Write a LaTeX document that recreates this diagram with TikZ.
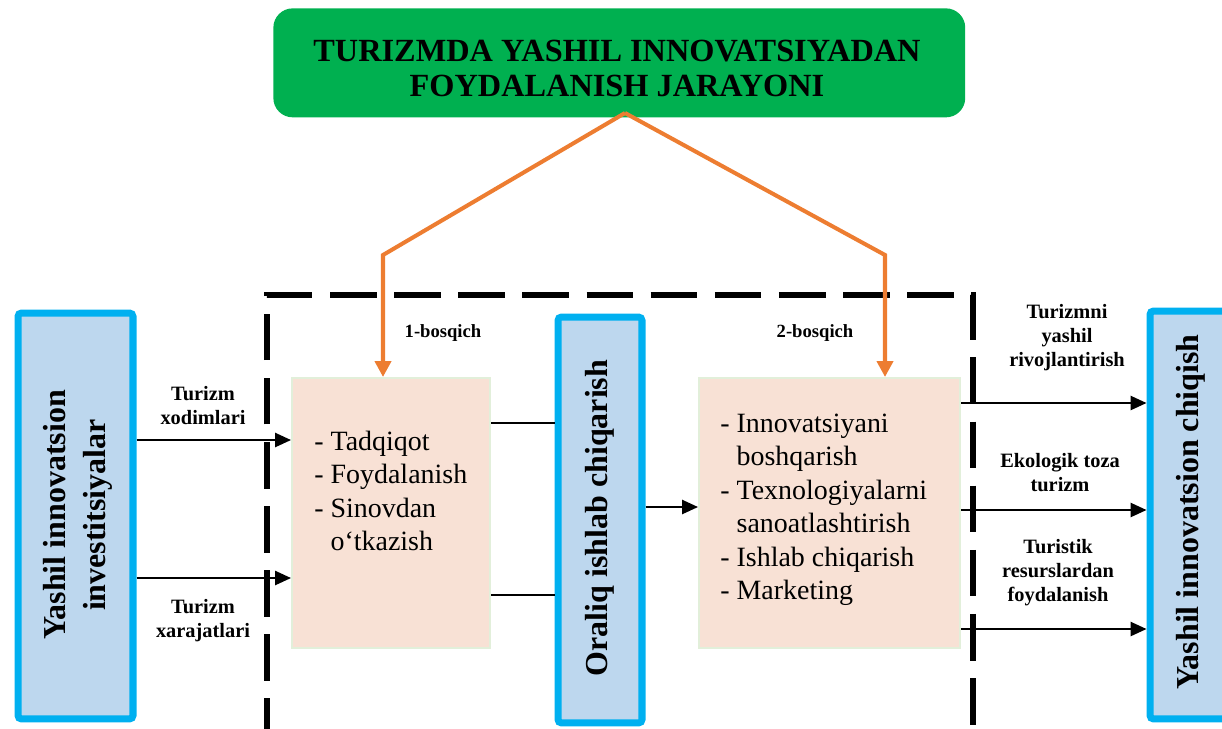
\documentclass[tikz,border=0pt]{standalone}
\usepackage{fontspec}
\setmainfont{Liberation Serif}
\usetikzlibrary{arrows.meta}
\definecolor{ggreen}{HTML}{00B050}
\definecolor{cyanb}{HTML}{00B0F0}
\definecolor{lblue}{HTML}{BDD7EE}
\definecolor{peach}{HTML}{F8E1D5}
\definecolor{pborder}{HTML}{E2EFDA}
\definecolor{orng}{HTML}{ED7D31}
\tikzset{
  bluebox/.style={draw=cyanb, line width=4pt, fill=lblue, rounded corners=2pt, inner sep=0pt, anchor=north west},
  stagebox/.style={draw=pborder, line width=1.2pt, fill=peach, inner sep=0pt, anchor=north west},
  titlebox/.style={fill=ggreen, rounded corners=11pt, inner sep=0pt, anchor=north west},
  flow/.style={line width=1.1pt, -{Triangle[length=9pt,width=8pt]}},
  plainline/.style={line width=1.1pt},
  orangearrow/.style={draw=orng, line width=2.3pt, line join=miter, -{Triangle[length=9pt,width=9pt]}},
  framedash/.style={line width=3.4pt, dash pattern=on 26.5pt off 10pt},
  lbl/.style={font=\bfseries\fontsize{11.6}{13.7}\selectfont, inner sep=0pt, anchor=base},
  stagelbl/.style={font=\bfseries\fontsize{10.6}{12.5}\selectfont, inner sep=0pt, anchor=base},
  vtext/.style={font=\bfseries\fontsize{18.2}{22.7}\selectfont, rotate=90, align=center, inner sep=0pt},
  listtext/.style={font=\fontsize{15.9}{19.1}\selectfont, inner sep=0pt, anchor=base west}
}
\begin{document}
\begin{tikzpicture}[x=0.02cm,y=-0.02cm]
\useasboundingbox (0,0) rectangle (1222,728);
% dashed frame
\coordinate (f1) at (267,745);
\coordinate (f2) at (267,295);
\coordinate (f3) at (973,295);
\coordinate (f4) at (973,745);
\draw[framedash] (f1) -- (f2) -- (f3) -- (f4);
% title
\node[titlebox, minimum width=13.84cm, minimum height=2.18cm] (title) at (273,8) {};
\node[font=\bfseries\fontsize{18.4}{20}\selectfont, align=center, inner sep=0pt] (titletext) at (617,68.5)
  {TURIZMDA YASHIL INNOVATSIYADAN\\FOYDALANISH JARAYONI};
% blue boxes
\node[bluebox, minimum width=2.3cm, minimum height=8.12cm] (left) at (14.5,309.5) {};
\node[vtext] (lefttext) at (78,515) {Yashil innovatsion\\investitsiyalar};
\node[bluebox, minimum width=1.68cm, minimum height=8.12cm] (mid) at (554.5,313.5) {};
\node[vtext] (midtext) at (600,518) {Oraliq ishlab chiqarish};
\node[bluebox, minimum width=1.78cm, minimum height=8.16cm] (right) at (1146.5,307.5) {};
\node[vtext] (righttext) at (1191,512) {Yashil innovatsion chiqish};
% stage boxes
\node[stagebox, minimum width=3.96cm, minimum height=5.4cm] (b1) at (291,377) {};
\node[stagebox, minimum width=5.22cm, minimum height=5.4cm] (b2) at (698,377) {};
\node[listtext] (b1text) at (314,450) {\begin{tabular}[t]{@{}l@{ }l@{}}-&Tadqiqot\\-&Foydalanish\\-&Sinovdan\\&o‘tkazish\end{tabular}};
\node[listtext] (b2text) at (720,432) {\begin{tabular}[t]{@{}l@{ }l@{}}-&Innovatsiyani\\&boshqarish\\-&Texnologiyalarni\\&sanoatlashtirish\\-&Ishlab chiqarish\\-&Marketing\end{tabular}};
% stage labels
\node[stagelbl] (s1) at (443,337) {1-bosqich};
\node[stagelbl] (s2) at (815,337) {2-bosqich};
% flow labels
\node[lbl] (l1) at (203,400) {\begin{tabular}[t]{@{}c@{}}Turizm\\xodimlari\end{tabular}};
\node[lbl] (l2) at (203,613) {\begin{tabular}[t]{@{}c@{}}Turizm\\xarajatlari\end{tabular}};
\node[lbl] (r1) at (1067,318) {\begin{tabular}[t]{@{}c@{}}Turizmni\\yashil\\rivojlantirish\end{tabular}};
\node[lbl] (r2) at (1060,467) {\begin{tabular}[t]{@{}c@{}}Ekologik toza\\turizm\end{tabular}};
\node[lbl] (r3) at (1058,553) {\begin{tabular}[t]{@{}c@{}}Turistik\\resurslardan\\foydalanish\end{tabular}};
% connectors
\draw[flow] (left.east |- 0,440) -- (b1.west |- 0,440);
\draw[flow] (left.east |- 0,578) -- (b1.west |- 0,578);
\draw[plainline] (b1.east |- 0,423) -- (mid.west |- 0,423);
\draw[plainline] (b1.east |- 0,595) -- (mid.west |- 0,595);
\draw[flow] (mid.east |- 0,507) -- (b2.west |- 0,507);
\draw[flow] (b2.east |- 0,403) -- (right.west |- 0,403);
\draw[flow] (b2.east |- 0,510) -- (right.west |- 0,510);
\draw[flow] (b2.east |- 0,629) -- (right.west |- 0,629);
% orange arrows
\coordinate (apex) at (625,113);
\coordinate (c1) at (383,255);
\coordinate (c2) at (885,255);
\draw[orangearrow] (apex) -- (c1) -- (c1 |- b1.north);
\draw[orangearrow] (apex) -- (c2) -- (c2 |- b2.north);
\end{tikzpicture}
\end{document}
